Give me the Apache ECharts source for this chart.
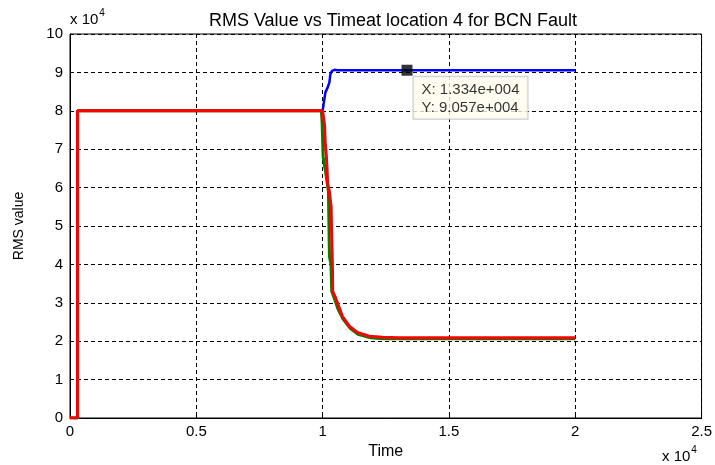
<!DOCTYPE html>
<html>
<head>
<meta charset="utf-8">
<script src="https://cdn.jsdelivr.net/npm/echarts@6/dist/echarts.min.js"></script>
<style>
  html, body { margin: 0; padding: 0; background: #fff; }
  #chart { width: 715px; height: 465px; }
</style>
</head>
<body>
<div id="chart"></div>
<script>
// RMS value traces at location 4 (time, rms)
const blueTrace = [
  [0, 0], [300, 0], [300, 80000], [10000, 80000], [10040, 81800], [10110, 84800],
  [10200, 86100], [10268, 87400], [10308, 89600], [10375, 90400], [10466, 90670],
  [10600, 90570], [20000, 90570]
];
const greenTrace = [
  [0, 0], [300, 0], [300, 80000], [9950, 80000], [9980, 77000], [10020, 68000],
  [10120, 64000], [10230, 59000], [10250, 50000], [10270, 42000], [10300, 41000],
  [10330, 40000], [10360, 33000], [10500, 30500], [10600, 28500], [10800, 25800],
  [11100, 23300], [11400, 21800], [11900, 20900], [12400, 20650], [20000, 20650]
];
const redTrace = [
  [0, 0], [300, 0], [300, 80000], [10000, 80000], [10080, 76000], [10100, 72000],
  [10150, 68000], [10178, 64500], [10200, 61000], [10268, 59000], [10300, 57000],
  [10336, 55000], [10350, 50000], [10370, 44300], [10387, 40000], [10399, 33000],
  [10500, 31500], [10585, 30000], [10782, 26500], [11058, 23900], [11374, 22300],
  [11848, 21300], [12362, 21000], [13000, 20900], [20000, 20900]
];
// data cursor
const tipPoint = [13340, 90570];
const tipText = ['X: 1.334e+004', 'Y: 9.057e+004'];

const xTicks = { min: 0, max: 25000, interval: 5000 };
const yTicks = { min: 0, max: 100000, interval: 10000 };
const scaleExp = 1e4;

const FONT = 'Liberation Sans, Arial, sans-serif';
const TICK_SIZE = 15;

const chart = echarts.init(document.getElementById('chart'), null, { renderer: 'canvas' });

function fmt(v) { return String(+(v / scaleExp).toFixed(2)); }

const splitStyle = { show: true, lineStyle: { color: '#000', type: [4, 3], width: 1 } };

function expLabel(left, top) {
  return {
    type: 'text', left: left, top: top,
    style: {
      text: '{b|x 10}{s|4}', fontFamily: FONT,
      rich: {
        b: { fontSize: 15, fontFamily: FONT, fill: '#000', verticalAlign: 'bottom' },
        s: { fontSize: 10, fontFamily: FONT, fill: '#000', verticalAlign: 'top', padding: [0, 0, 9, 1] }
      }
    }
  };
}

chart.setOption({
  animation: false,
  backgroundColor: '#fff',
  title: {
    text: 'RMS Value vs Timeat location 4 for BCN Fault',
    left: 388, top: 7, textAlign: 'center',
    textStyle: { fontFamily: FONT, fontSize: 18, fontWeight: 'normal', color: '#000' }
  },
  grid: {
    left: 70, right: 9, top: 34, bottom: 45,
    show: true, borderColor: '#000', borderWidth: 1, backgroundColor: '#fff'
  },
  xAxis: {
    type: 'value', min: xTicks.min, max: xTicks.max, interval: xTicks.interval,
    name: 'Time', nameLocation: 'middle', nameGap: 26,
    nameTextStyle: { fontFamily: FONT, fontSize: 16, color: '#000' },
    axisLine: { lineStyle: { color: '#000', width: 1 } },
    axisTick: { inside: true, length: 4, lineStyle: { color: '#000' } },
    axisLabel: { formatter: fmt, fontFamily: FONT, fontSize: TICK_SIZE, color: '#000', margin: 6 },
    splitLine: splitStyle
  },
  yAxis: {
    type: 'value', min: yTicks.min, max: yTicks.max, interval: yTicks.interval,
    name: 'RMS value', nameLocation: 'middle', nameGap: 44, nameRotate: 90,
    nameTextStyle: { fontFamily: FONT, fontSize: 14, color: '#000' },
    axisLine: { lineStyle: { color: '#000', width: 1 } },
    axisTick: { inside: true, length: 4, lineStyle: { color: '#000' } },
    axisLabel: { formatter: fmt, fontFamily: FONT, fontSize: TICK_SIZE, color: '#000', margin: 7 },
    splitLine: splitStyle
  },
  graphic: [expLabel(70, 8), expLabel(662, 445)],
  series: [
    {
      type: 'line', data: blueTrace, showSymbol: false, z: 3,
      lineStyle: { color: '#0000ff', width: 2.5 }
    },
    {
      type: 'line', data: greenTrace, showSymbol: false, z: 4,
      lineStyle: { color: '#008000', width: 3 }
    },
    {
      type: 'line', data: redTrace, showSymbol: false, z: 5,
      lineStyle: { color: '#ff0000', width: 3 }
    },
    {
      type: 'scatter', data: [tipPoint], z: 10,
      symbol: 'rect', symbolSize: 11,
      itemStyle: { color: '#000' },
      label: {
        show: true, position: [12, 12],
        formatter: tipText.join('\n'),
        fontFamily: FONT, fontSize: 15, color: '#000', lineHeight: 18,
        backgroundColor: '#fffbee', borderColor: '#bdbdbd', borderWidth: 1,
        padding: [4, 8, 2, 8]
      }
    }
  ]
});
</script>
</body>
</html>
